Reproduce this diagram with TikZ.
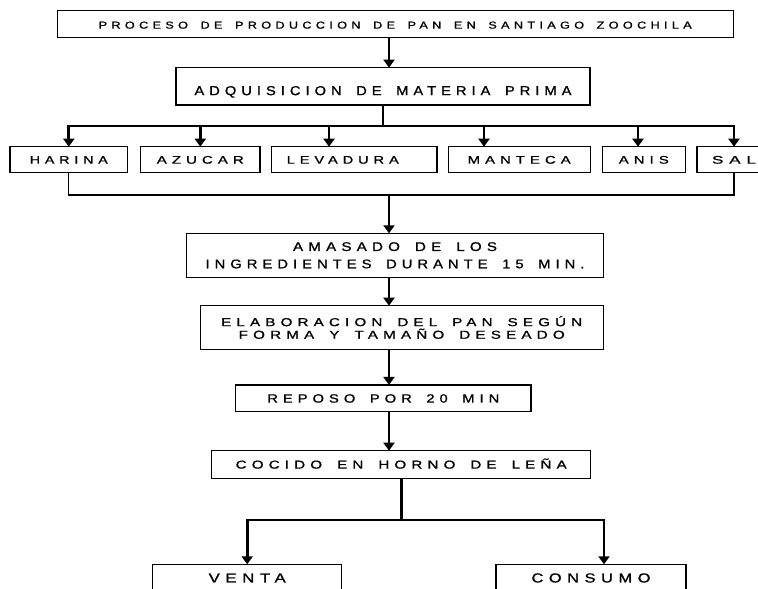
\documentclass[tikz,border=0pt]{standalone}
\usepackage{fontspec}
\setmainfont{Liberation Sans}
\newfontfamily\spfont{Liberation Sans}[LetterSpace=34,WordSpace=1.6,FakeBold=1]
\usetikzlibrary{arrows.meta}
\newcommand\tx[2]{\resizebox{#1pt}{\height}{\spfont #2}}
\tikzset{
  box/.style={draw, line width=1.1pt, inner sep=0pt, outer sep=0pt},
  arr/.style={line width=2.8pt, -{Triangle[width=11pt,length=8pt]}},
  thk/.style={line width=2.8pt},
  thn/.style={line width=1.1pt},
  one/.style={text depth=0pt},
}
\begin{document}
\begin{tikzpicture}[x=1pt,y=-1pt]
\useasboundingbox (0,0) rectangle (758,589);
\fill[white] (0,0) rectangle (758,589);
% boxes
\node[box, one, minimum width=675.7pt, minimum height=27.3pt, font=\fontsize{10}{12}\selectfont, text height=9.8pt] (title) at (395.2,23.7) {\tx{593}{PROCESO DE PRODUCCION DE PAN EN SANTIAGO ZOOCHILA}};
\node[box, one, minimum width=414pt, minimum height=37.3pt, font=\fontsize{13}{15}\selectfont, text height=17.7pt] (adq) at (383,86.3) {\tx{377}{ADQUISICION DE MATERIA PRIMA}};
\tikzset{ing/.style={box, one, minimum height=26pt, font=\fontsize{11}{13}\selectfont, text height=7.9pt}}
\node[ing, minimum width=117.7pt] (harina) at (68.8,159.7) {\tx{78}{HARINA}};
\node[ing, minimum width=119.3pt] (azucar) at (200.3,159.7) {\tx{87}{AZUCAR}};
\node[ing, minimum width=165.3pt] (levadura) at (354.3,159.7) {\tx{112}{LEVADURA}\hspace*{23pt}};
\node[ing, minimum width=142.3pt] (manteca) at (519.2,159.7) {\tx{103}{MANTECA}};
\node[ing, minimum width=83pt] (anis) at (643.8,159.7) {\tx{50}{ANIS}};
\node[ing, minimum width=74pt] (sal) at (734,159.7) {\tx{44}{SAL}};
\node[box, align=center, minimum width=416.6pt, minimum height=44pt, font=\fontsize{12.5}{17.3}\selectfont] (amasado) at (395,255.3) {\tx{204}{AMASADO DE LOS}\\\tx{379}{INGREDIENTES DURANTE 15 MIN.}};
\node[box, align=center, minimum width=403.3pt, minimum height=43.6pt, font=\fontsize{11.5}{12.6}\selectfont] (elab) at (401.7,327.5) {\tx{361}{ELABORACION DEL PAN SEGÚN}\\\tx{326}{FORMA Y TAMAÑO DESEADO}};
\node[box, one, minimum width=295.3pt, minimum height=26.7pt, font=\fontsize{12}{14}\selectfont, text height=8.6pt] (reposo) at (383.3,398.3) {\tx{232}{REPOSO POR 20 MIN}};
\node[box, one, minimum width=379pt, minimum height=27.6pt, font=\fontsize{11.5}{13}\selectfont, text height=8.2pt] (cocido) at (401.2,464.5) {\tx{331}{COCIDO EN HORNO DE LEÑA}};
\node[box, one, minimum width=189pt, minimum height=27pt, font=\fontsize{13}{15}\selectfont, text height=9.3pt] (venta) at (247.2,577.8) {\tx{77}{VENTA}};
\node[box, one, minimum width=190pt, minimum height=27pt, font=\fontsize{13}{15}\selectfont, text height=9.3pt] (consumo) at (591,577.8) {\tx{119}{CONSUMO}};
% helper coordinates
\coordinate (a1) at (389,0);
\coordinate (busM) at (383,126);
\coordinate (tl) at (329,126);
\coordinate (tm) at (484,126);
\coordinate (ta) at (638,126);
\coordinate (col) at (389,195);
\coordinate (split) at (401.2,520);
\coordinate (cr) at (604,520);
% connectors
\draw[arr] (title.south -| a1) -- (adq.north -| a1);
\draw[arr] (adq.south) -- (busM) -| (harina.north);
\draw[arr] (busM) -| (sal.north);
\draw[arr] (busM -| azucar.north) -- (azucar.north);
\draw[arr] (tl) -- (tl |- levadura.north);
\draw[arr] (tm) -- (tm |- manteca.north);
\draw[arr] (ta) -- (ta |- anis.north);
\draw[thn] (harina.south) |- (col) -| (sal.south);
\draw[arr] (col) -- (col |- amasado.north);
\draw[arr] (amasado.south -| a1) -- (elab.north -| a1);
\draw[arr] (elab.south -| a1) -- (reposo.north -| a1);
\draw[arr] (reposo.south -| a1) -- (cocido.north -| a1);
\draw[thk] (cocido.south) -- (split);
\draw[arr] (split) -| (venta.north);
\draw[arr, line width=2pt] (split) -- (cr) -- (cr |- consumo.north);
\end{tikzpicture}
\end{document}
